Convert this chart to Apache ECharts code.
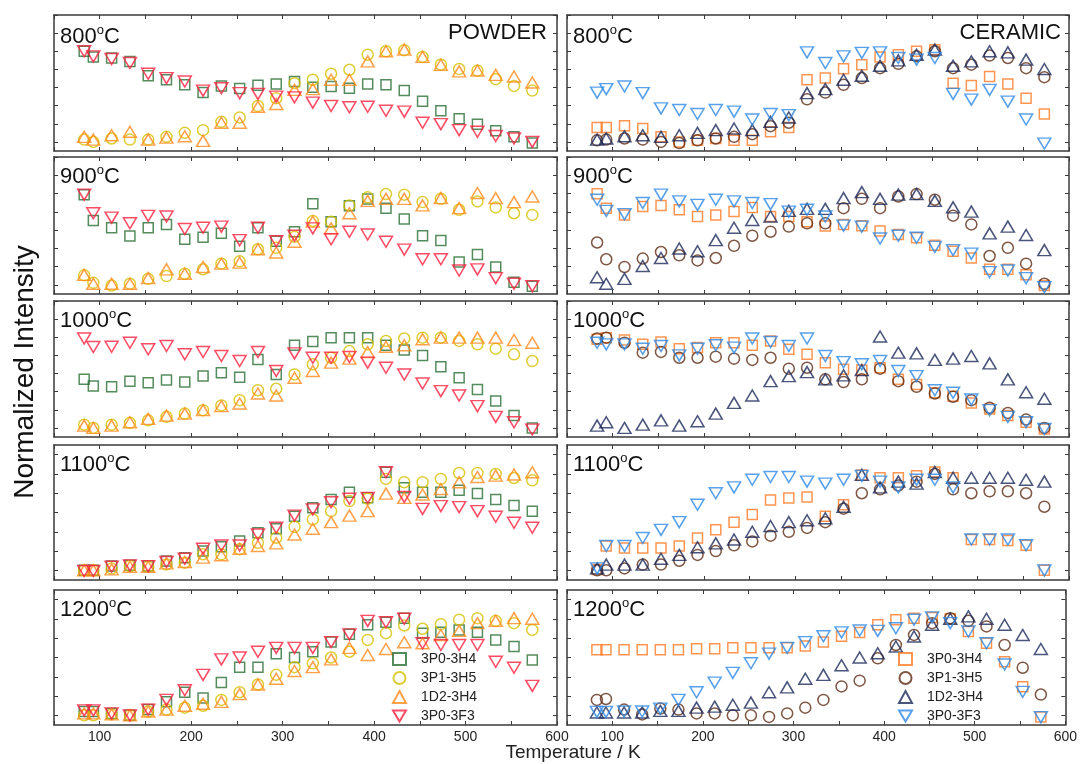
<!DOCTYPE html>
<html><head><meta charset="utf-8">
<script src="https://cdn.jsdelivr.net/npm/echarts@6/dist/echarts.min.js"></script>
<style>html,body{margin:0;padding:0;background:#fff}#c{width:1080px;height:764px}</style>
</head><body><div id="c"></div>
<script>
// Temperatures (K)
const temps = [83, 93, 113, 133, 153, 173, 193, 213, 233, 253, 273, 293, 313, 333, 353, 373, 393, 413, 433, 453, 473, 493, 513, 533, 553, 573];
const seriesNames = ['3P0-3H4', '3P1-3H5', '1D2-3H4', '3P0-3F3'];
const panelTemps = ['800', '900', '1000', '1100', '1200'];
const xTickLabels = [100, 200, 300, 400, 500, 600];

// POWDER
const pow800_a = [5.0, 4.69, 4.63, 4.43, 3.65, 3.43, 3.15, 2.72, 3.09, 2.94, 3.13, 3.19, 3.33, 3.02, 3.06, 2.96, 3.19, 3.15, 2.83, 2.24, 1.72, 1.28, 0.98, 0.61, 0.28, -0.06];
const pow800_b = [0.13, 0.0, 0.19, 0.13, 0.13, 0.28, 0.5, 0.65, 1.11, 1.35, 1.98, 2.41, 3.24, 3.43, 3.76, 3.98, 4.81, 5.0, 5.06, 4.69, 4.26, 4.02, 3.93, 3.46, 3.09, 2.83];
const pow800_c = [0.28, 0.13, 0.37, 0.56, 0.13, 0.24, 0.31, 0.06, 1.06, 1.06, 1.94, 2.09, 2.87, 2.91, 3.43, 3.43, 4.44, 5.0, 5.09, 4.69, 4.26, 3.89, 3.94, 3.7, 3.61, 3.28];
const pow800_d = [5.0, 4.72, 4.57, 4.35, 3.76, 3.52, 3.33, 2.83, 2.96, 2.69, 2.65, 2.5, 2.46, 2.17, 1.98, 1.91, 1.94, 1.72, 1.67, 1.06, 0.98, 0.65, 0.56, 0.33, 0.19, 0.0];

const pow900_a = [4.94, 3.52, 3.13, 2.67, 3.13, 3.31, 2.5, 2.6, 2.82, 2.12, 3.13, 2.39, 2.91, 4.44, 3.46, 4.33, 4.7, 4.2, 3.61, 2.69, 2.43, 1.25, 1.66, 0.98, 0.15, -0.07];
const pow900_b = [0.52, 0.11, -0.04, 0.06, 0.33, 0.48, 0.61, 0.85, 1.16, 1.29, 1.95, 2.03, 2.63, 3.5, 3.46, 4.35, 4.79, 4.97, 4.94, 4.53, 4.71, 4.11, 4.57, 4.24, 3.92, 3.83];
const pow900_c = [0.55, 0.06, 0.06, 0.06, 0.37, 0.85, 0.61, 0.98, 1.16, 1.22, 1.95, 1.77, 2.36, 3.46, 3.09, 3.92, 4.6, 4.71, 4.71, 4.35, 4.75, 4.2, 5.03, 4.75, 4.53, 4.84];
const pow900_d = [4.94, 3.92, 3.68, 3.37, 3.78, 3.74, 3.06, 3.13, 3.19, 2.45, 3.13, 2.39, 2.69, 3.09, 2.5, 2.91, 2.76, 2.36, 1.93, 1.4, 1.4, 0.79, 0.85, 0.37, 0.06, -0.07];

const pow1000_a = [2.68, 2.31, 2.27, 2.58, 2.49, 2.64, 2.53, 2.86, 3.04, 2.8, 3.78, 2.95, 4.56, 4.76, 4.98, 4.98, 4.98, 4.56, 4.3, 4.0, 3.38, 2.77, 2.12, 1.48, 0.68, 0.0];
const pow1000_b = [0.18, 0.0, 0.18, 0.28, 0.42, 0.61, 0.79, 0.98, 1.24, 1.53, 2.08, 2.16, 2.95, 3.51, 3.87, 4.24, 4.61, 4.8, 4.93, 4.98, 4.98, 4.8, 4.61, 4.37, 4.06, 3.69];
const pow1000_c = [0.13, 0.0, 0.13, 0.31, 0.5, 0.68, 0.79, 0.98, 1.2, 1.35, 1.9, 1.79, 2.77, 3.14, 3.6, 3.82, 4.19, 4.48, 4.56, 4.89, 4.98, 4.98, 4.98, 4.98, 4.85, 4.7];
const pow1000_d = [4.93, 4.46, 4.48, 4.7, 4.34, 4.52, 4.06, 4.19, 3.97, 3.69, 4.19, 3.14, 4.11, 3.87, 3.87, 3.91, 3.6, 3.32, 2.95, 2.45, 2.03, 1.79, 1.2, 0.61, 0.31, -0.09];

const pow1100_a = [0, 0, 0.22, 0.26, 0.22, 0.48, 0.66, 1.0, 1.22, 1.52, 1.95, 2.16, 2.81, 3.24, 3.67, 4.05, 3.76, 5.09, 4.28, 4.05, 4.05, 4.16, 3.98, 3.67, 3.36, 3.07];
const pow1100_b = [0, 0, 0.09, 0.22, 0.19, 0.31, 0.4, 0.83, 0.83, 1.09, 1.43, 1.69, 2.26, 2.64, 3.07, 3.59, 3.71, 4.74, 4.57, 4.57, 4.74, 5.05, 5.05, 5.0, 4.79, 4.67];
const pow1100_c = [0, 0, 0.05, 0.19, 0.19, 0.36, 0.43, 0.66, 0.78, 1.12, 1.26, 1.4, 1.86, 2.16, 2.5, 2.84, 3.07, 3.98, 3.76, 3.93, 4.22, 4.57, 4.84, 4.91, 4.97, 5.09];
const pow1100_d = [-0.03, -0.03, 0.19, 0.26, 0.22, 0.43, 0.6, 1.12, 1.29, 1.29, 1.86, 2.21, 2.84, 3.16, 3.53, 3.71, 3.76, 5.09, 3.81, 3.19, 3.33, 3.28, 3.07, 2.78, 2.47, 2.21];

const pow1200_a = [0.2, 0.2, 0.1, 0.0, 0.3, 0.7, 1.2, 0.9, 1.7, 2.5, 2.5, 3.2, 3.0, 3.3, 3.8, 4.2, 4.7, 4.83, 5.04, 4.26, 4.31, 4.43, 4.31, 3.91, 3.57, 2.87];
const pow1200_b = [0.0, 0.0, 0.05, 0.0, 0.2, 0.3, 0.4, 0.5, 0.8, 1.2, 1.6, 2.1, 2.5, 2.7, 3.0, 3.3, 3.91, 4.26, 4.66, 4.49, 4.73, 4.96, 5.04, 4.9, 4.78, 4.43];
const pow1200_c = [0.1, 0.1, 0.05, 0.0, 0.2, 0.3, 0.5, 0.6, 0.7, 1.1, 1.6, 1.9, 2.3, 2.5, 2.9, 3.5, 3.13, 3.44, 3.79, 3.74, 4.17, 4.38, 4.78, 4.9, 5.04, 5.01];
const pow1200_d = [0.26, 0.26, 0.1, 0.0, 0.3, 0.8, 1.3, 2.1, 2.9, 3.0, 3.3, 3.5, 3.5, 3.5, 3.8, 4.2, 4.9, 4.83, 5.01, 3.74, 3.65, 3.65, 3.65, 2.78, 2.47, 1.53];

// CERAMIC
const cer800_a = [0.8, 0.8, 0.89, 0.74, 0.28, 0.0, 0.09, 0.19, 0.09, 0.09, 0.56, 0.8, 3.43, 3.52, 4.04, 4.26, 4.69, 4.81, 5.0, 5.09, 3.24, 3.11, 3.61, 3.2, 2.41, 1.54];
const cer800_b = [0.09, 0.13, 0.19, 0.13, 0.0, -0.06, 0.09, 0.19, 0.28, 0.43, 0.87, 1.06, 2.35, 2.72, 3.15, 3.52, 4.07, 4.31, 4.72, 5.0, 4.07, 4.26, 4.76, 4.63, 4.07, 3.57];
const cer800_c = [0.13, 0.19, 0.31, 0.37, 0.28, 0.37, 0.5, 0.65, 0.74, 0.65, 1.11, 1.35, 2.69, 2.91, 3.43, 3.65, 4.2, 4.5, 4.81, 5.09, 4.2, 4.44, 5.0, 4.94, 4.54, 4.02];
const cer800_d = [2.72, 2.91, 3.06, 2.69, 1.85, 1.76, 1.54, 1.76, 1.67, 1.24, 1.54, 1.48, 4.94, 4.35, 4.72, 4.91, 4.94, 4.63, 4.54, 4.63, 2.65, 2.33, 2.87, 2.22, 1.24, -0.09];

const cer900_a = [4.99, 4.2, 3.83, 4.29, 4.35, 4.11, 3.74, 3.83, 4.01, 4.24, 3.74, 3.74, 3.46, 3.22, 3.31, 3.24, 2.95, 2.76, 2.58, 2.17, 1.84, 1.47, 0.85, 0.85, 0.55, -0.04];
const cer900_b = [2.32, 1.4, 0.98, 1.44, 1.8, 1.62, 1.34, 1.47, 2.14, 2.69, 2.91, 3.19, 3.37, 3.37, 4.2, 4.71, 4.2, 4.84, 4.97, 4.66, 3.79, 3.31, 1.58, 2.03, 1.16, 0.06];
const cer900_c = [0.42, 0.06, 0.33, 1.03, 1.47, 1.99, 1.84, 2.45, 3.13, 3.55, 3.74, 4.05, 4.16, 4.16, 4.75, 5.08, 4.71, 4.94, 4.97, 4.6, 4.24, 4.01, 2.82, 3.19, 2.73, 1.9];
const cer900_d = [4.66, 4.05, 3.87, 4.48, 4.94, 4.57, 4.38, 4.66, 4.57, 4.48, 4.42, 4.01, 4.11, 3.74, 3.24, 3.19, 2.54, 2.69, 2.58, 2.08, 1.9, 1.71, 0.7, 0.79, 0.37, -0.13];

const cer1000_a = [4.89, 4.98, 4.85, 4.61, 4.74, 4.37, 4.43, 4.7, 4.7, 4.56, 4.8, 4.34, 4.06, 3.6, 3.23, 3.19, 3.32, 2.68, 2.4, 1.94, 1.75, 1.38, 1.05, 0.68, 0.31, -0.06];
const cer1000_b = [4.93, 4.98, 4.7, 4.15, 4.19, 3.87, 3.87, 3.93, 3.82, 3.75, 3.87, 3.27, 3.32, 2.68, 2.53, 2.68, 3.27, 2.58, 2.27, 1.9, 1.72, 1.53, 1.11, 0.83, 0.46, 0.0];
const cer1000_c = [0.13, 0.31, 0.0, 0.18, 0.42, 0.13, 0.37, 0.79, 1.38, 1.79, 2.58, 2.86, 3.08, 2.68, 2.9, 3.19, 5.04, 4.15, 4.11, 3.75, 3.82, 3.97, 3.56, 2.68, 1.97, 1.61];
const cer1000_d = [4.7, 4.61, 4.61, 4.37, 4.52, 4.0, 4.37, 4.56, 4.43, 4.93, 4.74, 4.52, 4.93, 3.97, 3.63, 3.51, 3.69, 3.14, 2.86, 2.08, 1.94, 1.57, 0.98, 0.61, 0.31, -0.06];

const cer1100_a = [0.05, 1.26, 1.16, 1.16, 1.16, 1.26, 1.68, 2.1, 2.5, 2.9, 3.65, 3.75, 3.8, 2.8, 3.4, 4.95, 4.8, 4.8, 4.9, 5.1, 4.8, 1.6, 1.6, 1.55, 1.3, 0.0];
const cer1100_b = [0, 0, 0.1, 0.3, 0.3, 0.5, 0.8, 1.0, 1.3, 1.5, 1.8, 2.0, 2.2, 2.5, 3.2, 4.0, 4.2, 4.4, 4.6, 5.0, 4.2, 4.0, 4.1, 4.1, 4.0, 3.3];
const cer1100_c = [0.1, 0.3, 0.3, 0.3, 0.6, 0.8, 1.2, 1.4, 1.6, 2.0, 2.3, 2.5, 2.6, 2.7, 3.3, 4.95, 4.3, 4.6, 4.5, 5.1, 4.8, 4.8, 4.8, 4.8, 4.7, 4.6];
const cer1100_d = [0.1, 1.26, 1.26, 1.68, 2.1, 2.5, 3.4, 4.0, 4.3, 4.7, 4.84, 4.84, 4.6, 4.5, 4.7, 4.9, 4.6, 4.3, 4.7, 4.7, 4.3, 1.6, 1.6, 1.6, 1.3, 0.0];

const cer1200_a = [3.4, 3.4, 3.4, 3.4, 3.4, 3.4, 3.45, 3.45, 3.5, 3.5, 3.5, 3.5, 3.6, 3.8, 4.1, 4.3, 4.7, 4.96, 5.04, 5.08, 5.01, 4.35, 3.74, 2.78, 1.48, -0.09];
const cer1200_b = [0.8, 0.85, 0.3, 0.05, 0.35, 0.3, 0.1, 0.1, 0.0, 0.0, -0.08, 0.1, 0.4, 0.8, 1.5, 1.8, 2.96, 3.65, 4.17, 4.78, 5.04, 4.9, 4.61, 3.65, 2.47, 1.08];
const cer1200_c = [0.15, 0.15, 0.15, 0.15, 0.23, 0.23, 0.4, 0.45, 0.55, 0.66, 1.2, 1.45, 1.9, 2.1, 2.6, 3.0, 3.22, 3.57, 4.09, 4.7, 5.01, 5.13, 5.01, 4.7, 4.17, 3.44];
const cer1200_d = [0.18, 0.18, 0.2, 0.2, 0.35, 0.8, 1.2, 1.7, 2.2, 2.7, 3.2, 3.5, 3.8, 4.1, 4.3, 4.4, 4.38, 4.52, 4.96, 5.08, 4.78, 4.35, 3.74, 2.64, 1.22, -0.09];

const powder = [
  [pow800_a, pow800_b, pow800_c, pow800_d],
  [pow900_a, pow900_b, pow900_c, pow900_d],
  [pow1000_a, pow1000_b, pow1000_c, pow1000_d],
  [pow1100_a, pow1100_b, pow1100_c, pow1100_d],
  [pow1200_a, pow1200_b, pow1200_c, pow1200_d]
];
const ceramic = [
  [cer800_a, cer800_b, cer800_c, cer800_d],
  [cer900_a, cer900_b, cer900_c, cer900_d],
  [cer1000_a, cer1000_b, cer1000_c, cer1000_d],
  [cer1100_a, cer1100_b, cer1100_c, cer1100_d],
  [cer1200_a, cer1200_b, cer1200_c, cer1200_d]
];

// ---- layout / style ----
const FONT = '"Liberation Sans", Arial, Helvetica, sans-serif';
const colLeft = [54, 567];
const colWidth = [503, 502];
const rowTop = [15, 157, 301, 445, 590];
const rowHeight = [136, 137, 136, 135, 135];
const rowYMax = [7, 7, 7, 6.5, 6.5];
const leftColors = ['#2b6f35', '#d6c000', '#ff8a1c', '#ff1f3f'];
const rightColors = ['#ff7a26', '#5e2c14', '#1d2b5b', '#2d88e6'];
const symbols = ['rect', 'circle', 'triangle', 'triangle'];
const legendIcons = ['rect', 'circle', 'triangle', 'path://M0,0L14,0L7,12Z'];
const rotates = [0, 0, 0, 180];
const sizes = [[10, 10], [11, 11], [13, 11], [13, 11]];
const frame = '#3a3a3a';

const grid = [], xAxis = [], yAxis = [], series = [], graphic = [];
let k = 0;
for (let r = 0; r < 5; r++) {
  for (let c = 0; c < 2; c++) {
    grid.push({ left: colLeft[c], top: rowTop[r], width: colWidth[c], height: rowHeight[r], containLabel: false });
    const tickVals = [0, 1, 2, 3, 4, 5, 6, 7].filter(v => v <= rowYMax[r]);
    ['bottom', 'top'].forEach(pos => {
      xAxis.push({
        gridIndex: k, type: 'value', min: 50, max: 600, interval: 50, position: pos,
        axisLine: { show: true, onZero: false, lineStyle: { color: frame, width: 1.5 } },
        axisTick: { show: true, inside: true, length: 4, lineStyle: { color: frame, width: 1 } },
        axisLabel: {
          show: pos === 'bottom' && r === 4, color: '#222', fontSize: 14, fontFamily: FONT, margin: 5,
          formatter: v => (xTickLabels.indexOf(v) >= 0 ? String(v) : '')
        },
        splitLine: { show: false }
      });
    });
    ['left', 'right'].forEach(pos => {
      yAxis.push({
        gridIndex: k, type: 'value', min: -0.5, max: rowYMax[r], position: pos,
        axisLine: { show: true, onZero: false, lineStyle: { color: frame, width: 1.5 } },
        axisTick: { show: true, inside: true, length: 4, customValues: tickVals, lineStyle: { color: frame, width: 1 } },
        axisLabel: { show: false },
        splitLine: { show: false }
      });
    });
    const sets = c === 0 ? powder[r] : ceramic[r];
    const cols = c === 0 ? leftColors : rightColors;
    sets.forEach((vals, si) => {
      const data = [];
      vals.forEach((v, i) => { if (v !== null && v !== undefined) data.push([temps[i], v]); });
      series.push({
        type: 'scatter', name: c === 0 ? seriesNames[si] : seriesNames[si] + '\u200b',
        xAxisIndex: 2 * k, yAxisIndex: 2 * k, data: data,
        symbol: symbols[si], symbolRotate: rotates[si], symbolSize: sizes[si],
        itemStyle: { color: 'rgba(255,255,255,0)', borderColor: cols[si], borderWidth: 1.5 },
        emphasis: { disabled: true }, silent: true, animation: false
      });
    });
    // panel title
    graphic.push({
      type: 'text', x: colLeft[c] + 6, y: rowTop[r] + (r === 0 ? 22 : 20),
      style: {
        text: '{n|' + panelTemps[r] + '}{s|o}{n|C}',
        textVerticalAlign: 'middle', fill: '#111',
        rich: {
          n: { fontSize: 22, fontFamily: FONT, lineHeight: 26, fill: '#111' },
          s: { fontSize: 13, fontFamily: FONT, lineHeight: 26, verticalAlign: 'top', fill: '#111' }
        }
      }
    });
    k++;
  }
}
graphic.push({ type: 'text', x: 547, y: rowTop[0] + 18, style: { text: 'POWDER', font: '22px ' + FONT, fill: '#111', textAlign: 'right', textVerticalAlign: 'middle' } });
graphic.push({ type: 'text', x: 1061, y: rowTop[0] + 18, style: { text: 'CERAMIC', font: '22px ' + FONT, fill: '#111', textAlign: 'right', textVerticalAlign: 'middle' } });
graphic.push({ type: 'text', x: 25, y: 372, rotation: Math.PI / 2, style: { text: 'Normalized Intensity', font: '28px ' + FONT, fill: '#111', textAlign: 'center', textVerticalAlign: 'middle' } });
graphic.push({ type: 'text', x: 573, y: 753, style: { text: 'Temperature / K', font: '19px ' + FONT, fill: '#222', textAlign: 'center', textVerticalAlign: 'middle' } });

function legendData(suffix) {
  return seriesNames.map((n, i) => ({ name: n + suffix, icon: legendIcons[i] }));
}
const legendCommon = {
  orient: 'vertical', top: 651, padding: 0, itemWidth: 13, itemHeight: 12, itemGap: 3,
  symbolKeepAspect: true,
  selectedMode: false, textStyle: { fontSize: 14, lineHeight: 16, fontFamily: FONT, color: '#222', padding: [0, 0, 0, 10] }
};
const legend = [
  Object.assign({ data: legendData(''), left: 392 }, legendCommon),
  Object.assign({ data: legendData('\u200b'), left: 898 }, legendCommon)
];

const chart = echarts.init(document.getElementById('c'), null, { renderer: 'canvas' });
chart.setOption({ animation: false, backgroundColor: '#fff', grid, xAxis, yAxis, series, graphic, legend });
</script>
</body></html>
